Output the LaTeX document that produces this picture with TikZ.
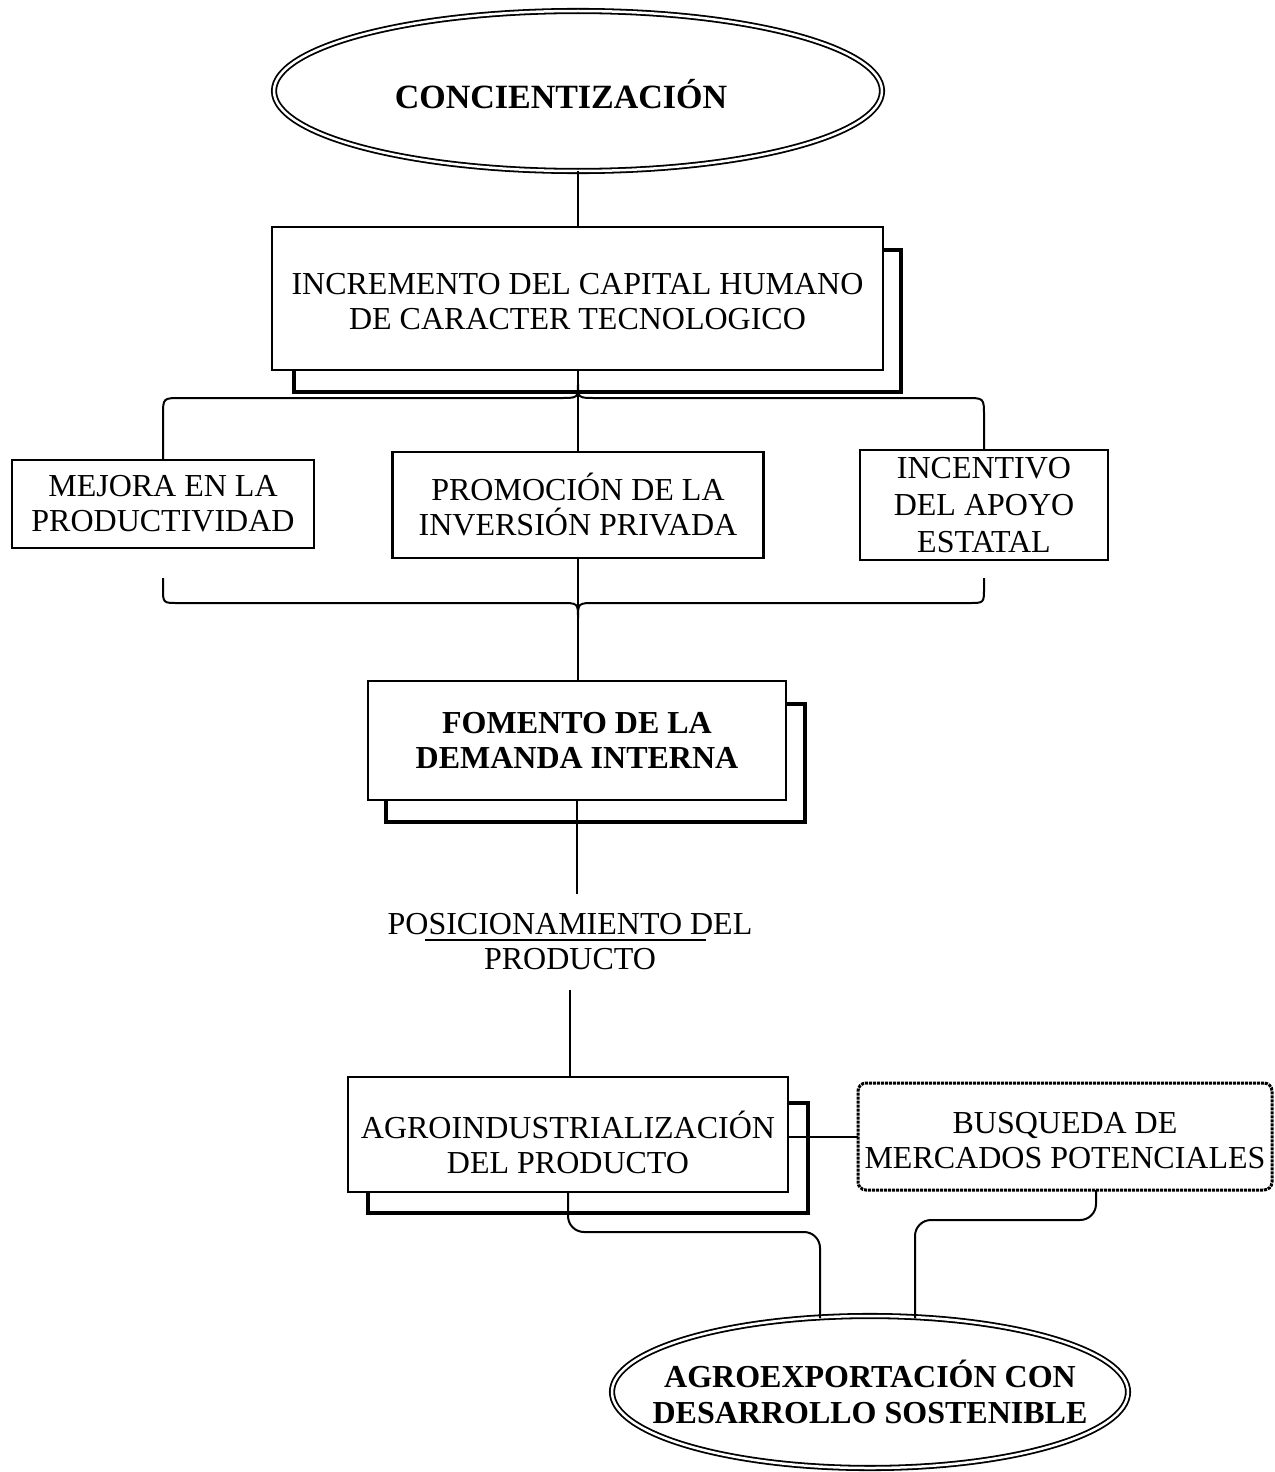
\documentclass[tikz,border=0pt]{standalone}
\usepackage{fontspec}
\setmainfont{Liberation Serif}
\usetikzlibrary{shapes.geometric,calc,backgrounds}
\begin{document}
\begin{tikzpicture}[x=1pt,y=-1pt,
  txt/.style={font=\fontsize{32}{35}\selectfont, align=center},
  boldtxt/.style={font=\fontsize{32}{36}\selectfont\bfseries, align=center},
  plainbox/.style={draw, line width=2.5pt, fill=white, txt, inner sep=0pt, outer sep=0pt},
  shade/.style={line width=4pt},
  oval/.style={ellipse, draw, double, double distance=2.5pt, line width=1.8pt, inner sep=0pt, outer sep=0pt},
  link/.style={line width=2pt},
  dotbox/.style={draw, densely dotted, line width=3pt, rounded corners=8pt, fill=white, txt, inner sep=0pt, outer sep=0pt}
]
\useasboundingbox (0,0) rectangle (1274,1472);

% top oval
\node[oval, minimum width=608pt, minimum height=160pt] (conc) at (578,91) {};
\node[boldtxt, font=\fontsize{34}{36}\selectfont\bfseries] (conctext) at ($(conc.center)+(-17,3)$) {CONCIENTIZACIÓN};

% human capital box with offset shadow
\node[plainbox, minimum width=611pt, minimum height=143pt] (incr) at (577.5,298.5) {};
\node[txt] (incrtext) at ($(incr.center)+(0,3)$)
  {INCREMENTO DEL CAPITAL HUMANO\\DE CARACTER TECNOLOGICO};
\begin{scope}[on background layer]
  \draw[shade] ($(incr.north west)+(22,23)$) rectangle ($(incr.south east)+(18,22)$);
\end{scope}

% three middle boxes
\node[plainbox, minimum width=302pt, minimum height=88pt] (mej) at (163,504)
  {MEJORA EN LA\\PRODUCTIVIDAD};
\node[plainbox, minimum width=371pt, minimum height=106pt] (prom) at (578,505)
  {PROMOCIÓN DE LA\\INVERSIÓN PRIVADA};
\node[plainbox, minimum width=248pt, minimum height=110pt] (inc) at (984,505)
  {INCENTIVO\\[2pt]DEL APOYO\\[2pt]ESTATAL};

% demand box with offset shadow
\node[plainbox, minimum width=418pt, minimum height=119pt, font=\fontsize{32}{35}\selectfont\bfseries] (fom) at (577,740.5)
  {FOMENTO DE LA\\DEMANDA INTERNA};
\begin{scope}[on background layer]
  \draw[shade] ($(fom.north west)+(18,23)$) rectangle ($(fom.south east)+(19,22)$);
\end{scope}

% free text
\node[txt, inner xsep=0pt, inner ysep=20pt, outer sep=0pt] (pos) at (570,942)
  {POSICIONAMIENTO DEL\\PRODUCTO};
\draw[line width=1.2pt] ($(pos.center)+(-145,-2)$) -- ($(pos.center)+(136,-2)$);

% agro-industry box with offset shadow
\node[plainbox, minimum width=440pt, minimum height=115pt] (agro) at (568,1134.5) {};
\node[txt] (agrotext) at ($(agro.center)+(0,8)$) {AGROINDUSTRIALIZACIÓN\\DEL PRODUCTO};
\begin{scope}[on background layer]
  \draw[shade] ($(agro.north west)+(20,26)$) rectangle ($(agro.south east)+(20,21)$);
\end{scope}

\node[dotbox, minimum width=414pt, minimum height=107pt] (busq) at (1065,1136.5) {};
\node[txt] (busqtext) at ($(busq.center)+(0,4)$) {BUSQUEDA DE\\MERCADOS POTENCIALES};

% bottom oval
\node[oval, minimum width=516pt, minimum height=152pt] (agex) at (870,1392) {};
\node[boldtxt] (agextext) at (agex.center) {AGROEXPORTACIÓN CON\\DESARROLLO SOSTENIBLE};

% connectors
\draw[link] (conc.south) -- (conc.south |- incr.north);
\draw[link] (incr.south) -- (incr.south |- prom.north);

% upper brace
\draw[link] (mej.north) -- (163,416) .. controls (163,398) .. (181,398) -- (560,398)
  .. controls (578,398) .. (578,384) .. controls (578,398) .. (596,398) -- (966,398)
  .. controls (984,398) .. (984,416) -- (inc.north);

% lower brace
\coordinate (bl) at (163,578);
\coordinate (br) at (984,578);
\draw[link] (bl) -- (163,588) .. controls (163,603) .. (178,603) -- (560,603)
  .. controls (578,603) .. (578,618) .. controls (578,603) .. (596,603) -- (969,603)
  .. controls (984,603) .. (984,588) -- (br);
\draw[link] (prom.south) -- (prom.south |- fom.north);

\draw[link] (fom.south) -- (fom.south |- pos.north);
\draw[link] (pos.south) -- (pos.south |- agro.north);
\draw[link] (busq.west) -- (busq.west -| agro.east);

\draw[link, rounded corners=16pt] (agro.south) -- ++(0,40) -| ($(agex.north)+(-50,2)$);
\draw[link, rounded corners=16pt] ($(busq.south)+(31,0)$) -- ++(0,30) -| ($(agex.north)+(45,2)$);
\end{tikzpicture}
\end{document}
